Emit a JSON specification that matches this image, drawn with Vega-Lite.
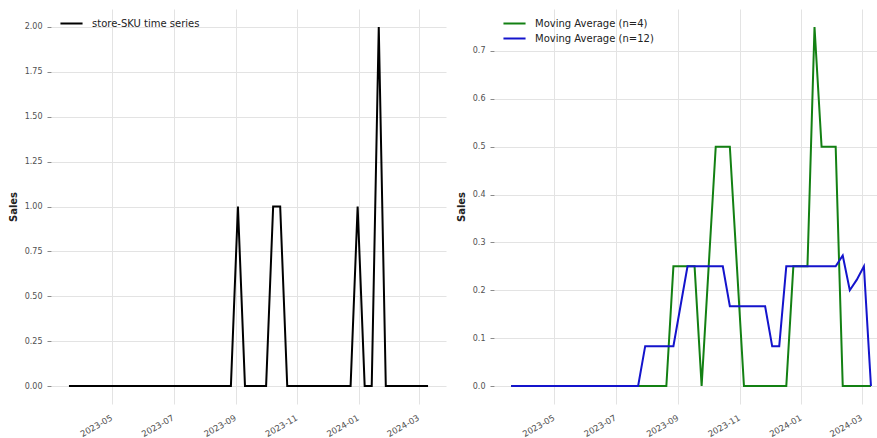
{
  "$schema": "https://vega.github.io/schema/vega-lite/v6.json",
  "background": "white",
  "padding": {"left": 8, "top": 9, "right": 0, "bottom": 0},
  "bounds": "flush",
  "spacing": 48,
  "config": {
    "view": {"stroke": null},
    "font": "DejaVu Sans",
    "axis": {
      "domain": false,
      "gridColor": "#e3e3e3",
      "gridWidth": 1,
      "labelFont": "DejaVu Sans",
      "labelFontSize": 8,
      "labelColor": "#505050",
      "titleFont": "DejaVu Sans",
      "titleFontSize": 10,
      "titleFontWeight": "bold",
      "titleColor": "#222222",
      "tickColor": "#8a8a8a",
      "tickWidth": 1
    },
    "axisX": {
      "ticks": false,
      "labelAngle": -30,
      "labelAlign": "right",
      "labelBaseline": "top",
      "labelFontSize": 8.5,
      "labelPadding": 9,
      "labelOffset": -3
    },
    "axisY": {"tickSize": 4, "labelPadding": 5, "titlePadding": 6},
    "legend": {
      "orient": "top-left",
      "offset": 7,
      "padding": 0,
      "labelFont": "DejaVu Sans",
      "labelFontSize": 10,
      "labelColor": "#222222",
      "symbolType": "M-1.7,0H1.7",
      "symbolSize": 169,
      "symbolStrokeWidth": 2,
      "symbolOffset": 6,
      "labelOffset": 13,
      "rowPadding": 2
    }
  },
  "datasets": {
    "weekly": [
      {"week": "2023-03-19", "sales": 0, "ma4": 0, "ma12": 0},
      {"week": "2023-03-26", "sales": 0, "ma4": 0, "ma12": 0},
      {"week": "2023-04-02", "sales": 0, "ma4": 0, "ma12": 0},
      {"week": "2023-04-09", "sales": 0, "ma4": 0, "ma12": 0},
      {"week": "2023-04-16", "sales": 0, "ma4": 0, "ma12": 0},
      {"week": "2023-04-23", "sales": 0, "ma4": 0, "ma12": 0},
      {"week": "2023-04-30", "sales": 0, "ma4": 0, "ma12": 0},
      {"week": "2023-05-07", "sales": 0, "ma4": 0, "ma12": 0},
      {"week": "2023-05-14", "sales": 0, "ma4": 0, "ma12": 0},
      {"week": "2023-05-21", "sales": 0, "ma4": 0, "ma12": 0},
      {"week": "2023-05-28", "sales": 0, "ma4": 0, "ma12": 0},
      {"week": "2023-06-04", "sales": 0, "ma4": 0, "ma12": 0},
      {"week": "2023-06-11", "sales": 0, "ma4": 0, "ma12": 0},
      {"week": "2023-06-18", "sales": 0, "ma4": 0, "ma12": 0},
      {"week": "2023-06-25", "sales": 0, "ma4": 0, "ma12": 0},
      {"week": "2023-07-02", "sales": 0, "ma4": 0, "ma12": 0},
      {"week": "2023-07-09", "sales": 0, "ma4": 0, "ma12": 0},
      {"week": "2023-07-16", "sales": 0, "ma4": 0, "ma12": 0},
      {"week": "2023-07-23", "sales": 0, "ma4": 0, "ma12": 0},
      {"week": "2023-07-30", "sales": 0, "ma4": 0, "ma12": 0.0833},
      {"week": "2023-08-06", "sales": 0, "ma4": 0, "ma12": 0.0833},
      {"week": "2023-08-13", "sales": 0, "ma4": 0, "ma12": 0.0833},
      {"week": "2023-08-20", "sales": 0, "ma4": 0, "ma12": 0.0833},
      {"week": "2023-08-27", "sales": 0, "ma4": 0.25, "ma12": 0.0833},
      {"week": "2023-09-03", "sales": 1, "ma4": 0.25, "ma12": 0.1667},
      {"week": "2023-09-10", "sales": 0, "ma4": 0.25, "ma12": 0.25},
      {"week": "2023-09-17", "sales": 0, "ma4": 0.25, "ma12": 0.25},
      {"week": "2023-09-24", "sales": 0, "ma4": 0, "ma12": 0.25},
      {"week": "2023-10-01", "sales": 0, "ma4": 0.25, "ma12": 0.25},
      {"week": "2023-10-08", "sales": 1, "ma4": 0.5, "ma12": 0.25},
      {"week": "2023-10-15", "sales": 1, "ma4": 0.5, "ma12": 0.25},
      {"week": "2023-10-22", "sales": 0, "ma4": 0.5, "ma12": 0.1667},
      {"week": "2023-10-29", "sales": 0, "ma4": 0.25, "ma12": 0.1667},
      {"week": "2023-11-05", "sales": 0, "ma4": 0, "ma12": 0.1667},
      {"week": "2023-11-12", "sales": 0, "ma4": 0, "ma12": 0.1667},
      {"week": "2023-11-19", "sales": 0, "ma4": 0, "ma12": 0.1667},
      {"week": "2023-11-26", "sales": 0, "ma4": 0, "ma12": 0.1667},
      {"week": "2023-12-03", "sales": 0, "ma4": 0, "ma12": 0.0833},
      {"week": "2023-12-10", "sales": 0, "ma4": 0, "ma12": 0.0833},
      {"week": "2023-12-17", "sales": 0, "ma4": 0, "ma12": 0.25},
      {"week": "2023-12-24", "sales": 0, "ma4": 0.25, "ma12": 0.25},
      {"week": "2023-12-31", "sales": 1, "ma4": 0.25, "ma12": 0.25},
      {"week": "2024-01-07", "sales": 0, "ma4": 0.25, "ma12": 0.25},
      {"week": "2024-01-14", "sales": 0, "ma4": 0.75, "ma12": 0.25},
      {"week": "2024-01-21", "sales": 2, "ma4": 0.5, "ma12": 0.25},
      {"week": "2024-01-28", "sales": 0, "ma4": 0.5, "ma12": 0.25},
      {"week": "2024-02-04", "sales": 0, "ma4": 0.5, "ma12": 0.25},
      {"week": "2024-02-11", "sales": 0, "ma4": 0, "ma12": 0.2727},
      {"week": "2024-02-18", "sales": 0, "ma4": 0, "ma12": 0.2},
      {"week": "2024-02-25", "sales": 0, "ma4": 0, "ma12": 0.2222},
      {"week": "2024-03-03", "sales": 0, "ma4": 0, "ma12": 0.25},
      {"week": "2024-03-10", "sales": 0, "ma4": 0, "ma12": 0}
    ]
  },
  "hconcat": [
    {
      "width": 395,
      "height": 395,
      "data": {"name": "weekly"},
      "mark": {"type": "line", "strokeWidth": 2, "strokeJoin": "miter"},
      "encoding": {
        "x": {
          "field": "week",
          "type": "temporal",
          "title": null,
          "scale": {
            "type": "utc",
            "domain": [
              {"year": 2023, "month": 3, "date": 1, "hours": 3, "minutes": 36, "utc": true},
              {"year": 2024, "month": 3, "date": 27, "hours": 20, "minutes": 24, "utc": true}
            ]
          },
          "axis": {
            "format": "%Y-%m",
            "values": [
              {"year": 2023, "month": 5, "date": 1, "utc": true},
              {"year": 2023, "month": 7, "date": 1, "utc": true},
              {"year": 2023, "month": 9, "date": 1, "utc": true},
              {"year": 2023, "month": 11, "date": 1, "utc": true},
              {"year": 2024, "month": 1, "date": 1, "utc": true},
              {"year": 2024, "month": 3, "date": 1, "utc": true}
            ]
          }
        },
        "y": {
          "field": "sales",
          "type": "quantitative",
          "title": "Sales",
          "scale": {"domain": [-0.1, 2.1], "nice": false, "zero": false},
          "axis": {"values": [0, 0.25, 0.5, 0.75, 1, 1.25, 1.5, 1.75, 2], "format": ".2f"}
        },
        "color": {
          "datum": "store-SKU time series",
          "type": "nominal",
          "scale": {"range": ["#000000"]},
          "legend": {"title": null}
        }
      }
    },
    {
      "width": 383,
      "height": 395,
      "data": {"name": "weekly"},
      "transform": [{"fold": ["ma4", "ma12"], "as": ["series", "value"]}],
      "mark": {"type": "line", "strokeWidth": 2, "strokeJoin": "miter"},
      "encoding": {
        "x": {
          "field": "week",
          "type": "temporal",
          "title": null,
          "scale": {
            "type": "utc",
            "domain": [
              {"year": 2023, "month": 3, "date": 2, "utc": true},
              {"year": 2024, "month": 3, "date": 16, "utc": true}
            ]
          },
          "axis": {
            "format": "%Y-%m",
            "values": [
              {"year": 2023, "month": 5, "date": 1, "utc": true},
              {"year": 2023, "month": 7, "date": 1, "utc": true},
              {"year": 2023, "month": 9, "date": 1, "utc": true},
              {"year": 2023, "month": 11, "date": 1, "utc": true},
              {"year": 2024, "month": 1, "date": 1, "utc": true},
              {"year": 2024, "month": 3, "date": 1, "utc": true}
            ]
          }
        },
        "y": {
          "field": "value",
          "type": "quantitative",
          "title": "Sales",
          "scale": {"domain": [-0.0375, 0.7875], "nice": false, "zero": false},
          "axis": {"values": [0, 0.1, 0.2, 0.3, 0.4, 0.5, 0.6, 0.7], "format": ".1f"}
        },
        "color": {
          "field": "series",
          "type": "nominal",
          "scale": {"domain": ["ma4", "ma12"], "range": ["#138013", "#1414cc"]},
          "legend": {
            "title": null,
            "labelExpr": "datum.label == 'ma4' ? 'Moving Average (n=4)' : 'Moving Average (n=12)'"
          }
        }
      }
    }
  ],
  "resolve": {"scale": {"color": "independent"}, "legend": {"color": "independent"}}
}
